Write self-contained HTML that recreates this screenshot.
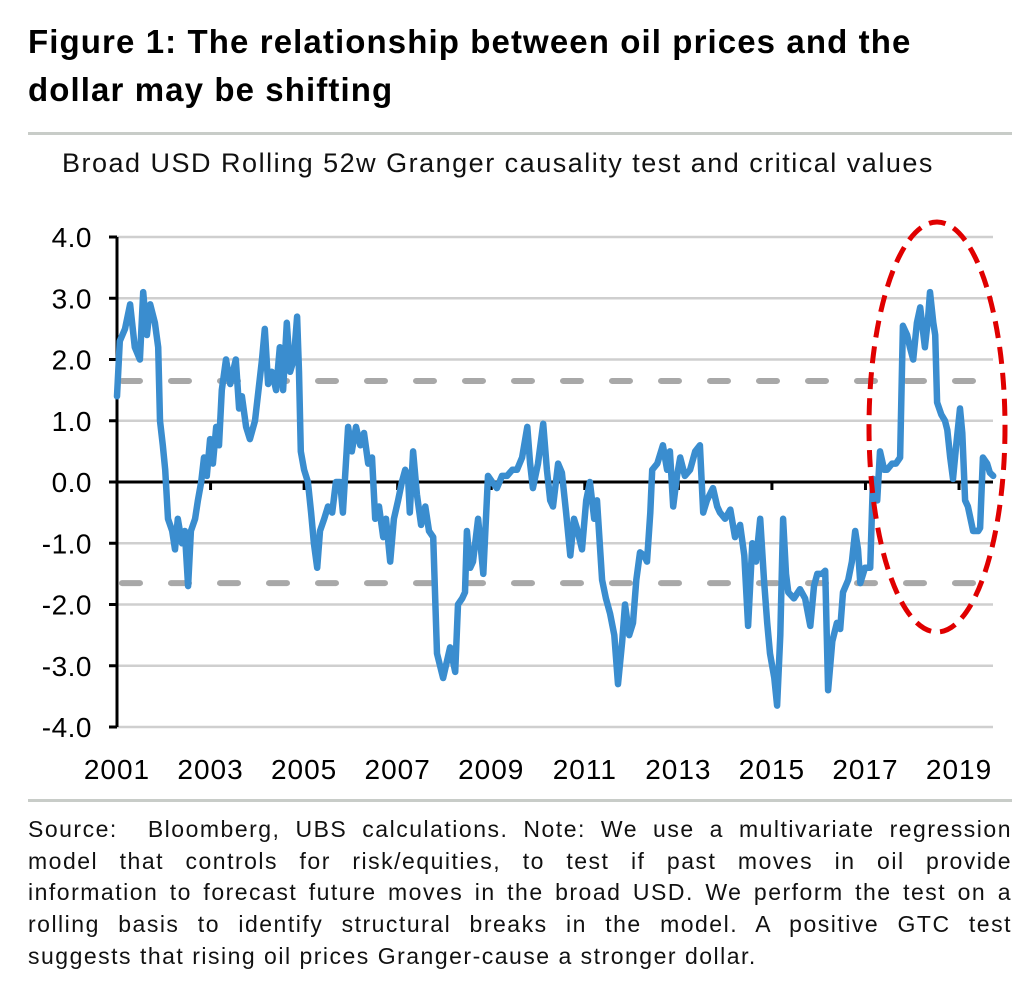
<!DOCTYPE html>
<html><head><meta charset="utf-8"><style>
body{margin:0;background:#fff;width:1035px;height:994px;overflow:hidden;font-family:"Liberation Sans",sans-serif;position:relative}
#title{position:absolute;left:28px;top:18px;font-weight:bold;font-size:33px;letter-spacing:1.1px;line-height:48px;color:#000;margin:0}
.rule{position:absolute;left:28px;width:984px;height:3px;background:#c8ccc8}
#sub{position:absolute;left:62px;top:148px;font-size:27px;letter-spacing:1.5px;color:#111}
#src{position:absolute;left:28px;top:814px;width:984px;font-size:23px;letter-spacing:1.5px;line-height:31.7px;color:#111}
#src div{text-align:justify;text-align-last:justify;white-space:nowrap}
#src div.last{text-align-last:left}
svg{position:absolute;left:0;top:0}
</style></head><body>
<div id="title">Figure 1: The relationship between oil prices and the<br>dollar may be shifting</div>
<div class="rule" style="top:132px"></div>
<div id="sub">Broad USD Rolling 52w Granger causality test and critical values</div>
<svg id="chart" width="1035" height="994"></svg>
<div class="rule" style="top:799px"></div>
<div id="src">
<div>Source:&nbsp; Bloomberg, UBS calculations. Note: We use a multivariate regression</div>
<div>model that controls for risk/equities, to test if past moves in oil provide</div>
<div>information to forecast future moves in the broad USD. We perform the test on a</div>
<div>rolling basis to identify structural breaks in the model. A positive GTC test</div>
<div class="last">suggests that rising oil prices Granger-cause a stronger dollar.</div>
</div>
<script>
const dates=[2001.00,2001.06,2001.17,2001.28,2001.38,2001.49,2001.56,2001.64,2001.71,2001.81,2001.88,2001.92,2001.98,2002.03,2002.09,2002.18,2002.24,2002.30,2002.39,2002.45,2002.52,2002.58,2002.67,2002.73,2002.80,2002.86,2002.92,2002.99,2003.05,2003.12,2003.18,2003.24,2003.33,2003.42,2003.54,2003.61,2003.67,2003.76,2003.84,2003.95,2004.01,2004.10,2004.16,2004.23,2004.31,2004.40,2004.48,2004.55,2004.63,2004.70,2004.78,2004.85,2004.89,2004.93,2005.00,2005.08,2005.15,2005.21,2005.28,2005.34,2005.43,2005.51,2005.60,2005.68,2005.77,2005.83,2005.94,2006.02,2006.11,2006.20,2006.28,2006.37,2006.45,2006.52,2006.60,2006.69,2006.75,2006.84,2006.92,2007.01,2007.09,2007.16,2007.22,2007.26,2007.33,2007.41,2007.50,2007.59,2007.67,2007.76,2007.84,2007.97,2008.12,2008.23,2008.29,2008.38,2008.44,2008.48,2008.55,2008.61,2008.72,2008.83,2008.93,2009.02,2009.12,2009.23,2009.34,2009.45,2009.55,2009.66,2009.77,2009.83,2009.89,2010.00,2010.11,2010.19,2010.26,2010.32,2010.43,2010.51,2010.60,2010.69,2010.77,2010.83,2010.94,2011.03,2011.11,2011.20,2011.26,2011.37,2011.45,2011.54,2011.63,2011.71,2011.80,2011.86,2011.95,2012.03,2012.10,2012.18,2012.27,2012.33,2012.40,2012.44,2012.55,2012.67,2012.76,2012.82,2012.89,2012.97,2013.04,2013.14,2013.25,2013.36,2013.46,2013.53,2013.61,2013.74,2013.83,2013.89,2014.00,2014.11,2014.21,2014.32,2014.41,2014.49,2014.58,2014.66,2014.75,2014.83,2014.90,2014.96,2015.05,2015.11,2015.18,2015.24,2015.30,2015.35,2015.47,2015.60,2015.71,2015.82,2015.90,2015.97,2016.07,2016.14,2016.20,2016.29,2016.39,2016.46,2016.52,2016.63,2016.71,2016.78,2016.84,2016.89,2016.99,2017.10,2017.16,2017.25,2017.31,2017.40,2017.46,2017.57,2017.65,2017.74,2017.80,2017.89,2017.95,2018.02,2018.10,2018.17,2018.27,2018.34,2018.38,2018.45,2018.49,2018.53,2018.62,2018.70,2018.75,2018.81,2018.87,2018.94,2019.02,2019.07,2019.13,2019.19,2019.30,2019.41,2019.45,2019.51,2019.60,2019.66,2019.73];
const values=[1.4,2.3,2.5,2.9,2.2,2.0,3.1,2.4,2.9,2.6,2.2,1.0,0.6,0.2,-0.6,-0.8,-1.1,-0.6,-1.0,-0.8,-1.7,-0.8,-0.6,-0.3,0.0,0.4,0.1,0.7,0.3,0.9,0.6,1.5,2.0,1.6,2.0,1.2,1.4,0.9,0.7,1.0,1.4,2.0,2.5,1.6,1.8,1.5,2.2,1.5,2.6,1.8,2.0,2.7,1.8,0.5,0.2,0.0,-0.5,-1.0,-1.4,-0.8,-0.6,-0.4,-0.5,0.0,0.0,-0.5,0.9,0.5,0.9,0.6,0.8,0.3,0.4,-0.6,-0.4,-0.9,-0.6,-1.3,-0.6,-0.3,0.0,0.2,0.1,-0.5,0.5,-0.2,-0.7,-0.4,-0.8,-0.9,-2.8,-3.2,-2.7,-3.1,-2.0,-1.9,-1.8,-0.8,-1.4,-1.3,-0.6,-1.5,0.1,0.0,-0.1,0.1,0.1,0.2,0.2,0.4,0.9,0.3,-0.1,0.3,0.95,0.2,-0.3,-0.4,0.3,0.15,-0.5,-1.2,-0.6,-0.75,-1.1,-0.3,0.0,-0.6,-0.3,-1.6,-1.9,-2.15,-2.5,-3.3,-2.6,-2.0,-2.5,-2.3,-1.6,-1.15,-1.2,-1.3,-0.5,0.2,0.3,0.6,0.2,0.5,-0.4,0.1,0.4,0.1,0.2,0.5,0.6,-0.5,-0.3,-0.1,-0.4,-0.5,-0.6,-0.45,-0.9,-0.7,-1.2,-2.35,-1.0,-1.3,-0.6,-1.6,-2.3,-2.8,-3.2,-3.65,-2.5,-0.6,-1.5,-1.8,-1.9,-1.75,-1.9,-2.35,-1.7,-1.5,-1.5,-1.45,-3.4,-2.6,-2.3,-2.4,-1.8,-1.6,-1.3,-0.8,-1.1,-1.65,-1.4,-1.4,0.05,-0.3,0.5,0.2,0.2,0.3,0.3,0.4,2.55,2.4,2.2,2.0,2.6,2.85,2.2,2.7,3.1,2.6,2.4,1.3,1.1,1.0,0.85,0.4,0.05,0.6,1.2,0.8,-0.3,-0.4,-0.8,-0.8,-0.75,0.4,0.3,0.15,0.1];
const yTicks=[4,3,2,1,0,-1,-2,-3,-4];
const xTickYears=[2001,2003,2005,2007,2009,2011,2013,2015,2017,2019];
const critical=[1.65,-1.65];

const svg=document.getElementById('chart');
const NS='http://www.w3.org/2000/svg';
const X0=117,X1=993,Y0=482,PXU=61.25,PXY=46.78;
const xs=d=>X0+(d-2001)*PXY;
const ys=v=>Y0-v*PXU;
function mk(tag,attrs){const e=document.createElementNS(NS,tag);for(const k in attrs)e.setAttribute(k,attrs[k]);svg.appendChild(e);return e;}

yTicks.forEach(t=>{
  if(t!==0){const g=mk('line',{x1:X0,x2:X1,y1:ys(t),y2:ys(t),stroke:'#cfcfcf','stroke-width':2.5});
  
  }
  const tk=mk('line',{x1:X0-8,x2:X0,y1:ys(t),y2:ys(t),stroke:'#000','stroke-width':3});
  
  
  const tx=mk('text',{x:92,y:ys(t)+10,'text-anchor':'end','font-size':28,'letter-spacing':0.5,'font-family':'Liberation Sans, sans-serif',fill:'#000'});
  tx.textContent=t.toFixed(1);
  
  
});
critical.forEach(c=>{
  const l=mk('line',{x1:X0+5,x2:X1-8,y1:ys(c),y2:ys(c),stroke:'#a8a8a8','stroke-width':6,'stroke-linecap':'round','stroke-dasharray':'18 31'});
  
  
});
const ax=mk('line',{x1:X0,x2:X0,y1:ys(4),y2:ys(-4),stroke:'#000','stroke-width':3});


const zx=mk('line',{x1:X0,x2:X1,y1:Y0,y2:Y0,stroke:'#000','stroke-width':3});


xTickYears.forEach(yr=>{
  const t=mk('line',{x1:xs(yr),x2:xs(yr),y1:Y0,y2:Y0+8,stroke:'#000','stroke-width':3});
  
  
  const tx=mk('text',{x:xs(yr),y:779,'text-anchor':'middle','font-size':28,'letter-spacing':1,'font-family':'Liberation Sans, sans-serif',fill:'#000'});
  tx.textContent=yr;
  
  
});
const pts=dates.map((d,i)=>xs(d).toFixed(1)+','+ys(values[i]).toFixed(1)).join(' ');
const line=mk('polyline',{points:pts,fill:'none',stroke:'#3a8dcf','stroke-width':6.5,'stroke-linejoin':'round','stroke-linecap':'round'});


const el=mk('ellipse',{cx:937,cy:427,rx:68,ry:205,fill:'none',stroke:'#e00000','stroke-width':5,'stroke-dasharray':'17 9'});


</script>
</body></html>
